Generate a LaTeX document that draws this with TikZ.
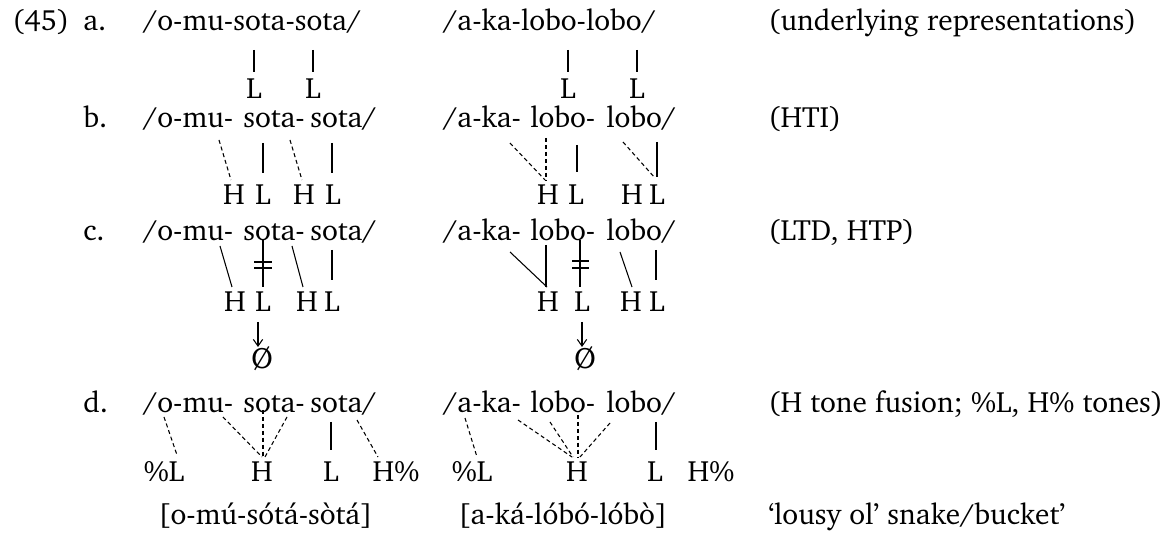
\documentclass[tikz,border=0pt]{standalone}
\usepackage[T1]{fontenc}
\usepackage{charter}
\usetikzlibrary{arrows.meta}
\begin{document}
\begin{tikzpicture}[x=0.75pt,y=-0.75pt,
  every node/.style={font=\fontsize{22}{26}\selectfont},
  tx/.style={inner sep=0pt, anchor=base west},
  tone/.style={inner sep=0pt, anchor=base},
  assoc/.style={line width=0.8pt},
  dassoc/.style={line width=0.8pt, dash pattern=on 3pt off 2.2pt},
  rulearrow/.style={line width=0.8pt, -{Straight Barb[length=5pt,width=7pt]}}]
\useasboundingbox (0,0) rectangle (1164,534);

% ---------- row a ----------
\node[tx] (n45) at (12,31) {(45)};
\node[tx] (la) at (83,31) {a.};
\node[tx] (wa1) at (143,31) {/o-mu-sota-sota/};
\node[tx] (wa2) at (443,31) {/a-ka-lobo-lobo/};
\node[tx] (ra) at (768,31) {(underlying representations)};
\node[tone] (La1) at (254,99) {L};
\node[tone] (La2) at (313,99) {L};
\node[tone] (La3) at (568,99) {L};
\node[tone] (La4) at (637,99) {L};
\coordinate (a1t) at (254,50); \coordinate (a1b) at (254,72);
\coordinate (a2t) at (313,50); \coordinate (a2b) at (313,72);
\coordinate (a3t) at (568,50); \coordinate (a3b) at (568,72);
\coordinate (a4t) at (637,50); \coordinate (a4b) at (637,72);
\draw[assoc] (a1t) -- (a1b);
\draw[assoc] (a2t) -- (a2b);
\draw[assoc] (a3t) -- (a3b);
\draw[assoc] (a4t) -- (a4b);

% ---------- row b ----------
\node[tx] (lb) at (83,128) {b.};
\node[tx] (wb1a) at (143,128) {/o-mu-};
\node[tx] (wb1b) at (243,128) {sota-};
\node[tx] (wb1c) at (310,128) {sota/};
\node[tx] (wb2a) at (443,128) {/a-ka-};
\node[tx] (wb2b) at (530,128) {lobo-};
\node[tx] (wb2c) at (606,128) {lobo/};
\node[tx] (rb) at (768,128) {(HTI)};
\node[tone] (Hb1) at (234,205) {H};
\node[tone] (Lb1) at (263,205) {L};
\node[tone] (Hb2) at (304,205) {H};
\node[tone] (Lb2) at (333,205) {L};
\node[tone] (Hb3) at (548,205) {H};
\node[tone] (Lb3) at (576,205) {L};
\node[tone] (Hb4) at (632,205) {H};
\node[tone] (Lb4) at (657,205) {L};
\coordinate (b1t) at (219,140); \coordinate (b1b) at (231,180);
\coordinate (b2t) at (263,143); \coordinate (b2b) at (263,173);
\coordinate (b3t) at (290,140); \coordinate (b3b) at (302,180);
\coordinate (b4t) at (332,143); \coordinate (b4b) at (332,173);
\coordinate (b5t) at (510,143); \coordinate (b5b) at (545,180);
\coordinate (b6t) at (546,138); \coordinate (b6b) at (546,180);
\coordinate (b7t) at (577,145); \coordinate (b7b) at (577,172);
\coordinate (b8t) at (623,142); \coordinate (b8b) at (655,178);
\coordinate (b9t) at (657,142); \coordinate (b9b) at (657,177);
\draw[dassoc] (b1t) -- (b1b);
\draw[assoc]  (b2t) -- (b2b);
\draw[dassoc] (b3t) -- (b3b);
\draw[assoc]  (b4t) -- (b4b);
\draw[dassoc] (b5t) -- (b5b);
\draw[dassoc] (b6t) -- (b6b);
\draw[assoc]  (b7t) -- (b7b);
\draw[dassoc] (b8t) -- (b8b);
\draw[assoc]  (b9t) -- (b9b);

% ---------- row c ----------
\node[tx] (lc) at (83,241) {c.};
\node[tx] (wc1a) at (143,241) {/o-mu-};
\node[tx] (wc1b) at (243,241) {sota-};
\node[tx] (wc1c) at (310,241) {sota/};
\node[tx] (wc2a) at (443,241) {/a-ka-};
\node[tx] (wc2b) at (530,241) {lobo-};
\node[tx] (wc2c) at (606,241) {lobo/};
\node[tx] (rc) at (768,241) {(LTD, HTP)};
\node[tone] (Hc1) at (235,312) {H};
\node[tone] (Lc1) at (263,312) {L};
\node[tone] (Hc2) at (307,312) {H};
\node[tone] (Lc2) at (332,312) {L};
\node[tone] (Hc3) at (548,312) {H};
\node[tone] (Lc3) at (582,312) {L};
\node[tone] (Hc4) at (631,312) {H};
\node[tone] (Lc4) at (657,312) {L};
\node[tone] (Z1) at (262,369) {\O};
\node[tone] (Z2) at (585,369) {\O};
\coordinate (c1t) at (220,246); \coordinate (c1b) at (232,287);
\coordinate (c2t) at (263,240); \coordinate (c2b) at (263,287);
\coordinate (c3t) at (292,246); \coordinate (c3b) at (303,287);
\coordinate (c4t) at (332,250); \coordinate (c4b) at (332,280);
\coordinate (c5t) at (510,252); \coordinate (c5b) at (547,287);
\coordinate (c6t) at (546,245); \coordinate (c6b) at (546,287);
\coordinate (c7t) at (580,240); \coordinate (c7b) at (580,287);
\coordinate (c8t) at (620,252); \coordinate (c8b) at (632,287);
\coordinate (c9t) at (656,250); \coordinate (c9b) at (656,280);
\draw[assoc] (c1t) -- (c1b);
\draw[assoc] (c2t) -- (c2b);
\draw[assoc] (c3t) -- (c3b);
\draw[assoc] (c4t) -- (c4b);
\draw[assoc] (c5t) -- (c5b);
\draw[assoc] (c6t) -- (c6b);
\draw[assoc] (c7t) -- (c7b);
\draw[assoc] (c8t) -- (c8b);
\draw[assoc] (c9t) -- (c9b);
% delinking marks
\coordinate (x1a) at (254,262); \coordinate (x1b) at (272,262);
\coordinate (x1c) at (254,268); \coordinate (x1d) at (272,268);
\coordinate (x2a) at (572,261); \coordinate (x2b) at (589,261);
\coordinate (x2c) at (572,268); \coordinate (x2d) at (589,268);
\draw[assoc] (x1a) -- (x1b);
\draw[assoc] (x1c) -- (x1d);
\draw[assoc] (x2a) -- (x2b);
\draw[assoc] (x2c) -- (x2d);
% deletion arrows
\coordinate (r1t) at (258,322); \coordinate (r1b) at (258,347);
\coordinate (r2t) at (582,322); \coordinate (r2b) at (582,347);
\draw[rulearrow] (r1t) -- (r1b);
\draw[rulearrow] (r2t) -- (r2b);

% ---------- row d ----------
\node[tx] (ld) at (83,413) {d.};
\node[tx] (wd1a) at (143,413) {/o-mu-};
\node[tx] (wd1b) at (243,413) {sota-};
\node[tx] (wd1c) at (310,413) {sota/};
\node[tx] (wd2a) at (443,413) {/a-ka-};
\node[tx] (wd2b) at (530,413) {lobo-};
\node[tx] (wd2c) at (606,413) {lobo/};
\node[tx] (rd) at (768,413) {(H tone fusion; \%L, H\% tones)};
\node[tone] (pL1) at (164,482) {\%L};
\node[tone] (Hd1) at (262,482) {H};
\node[tone] (Ld1) at (331,482) {L};
\node[tone] (Hp1) at (396,482) {H\%};
\node[tone] (pL2) at (472,482) {\%L};
\node[tone] (Hd2) at (577,482) {H};
\node[tone] (Ld2) at (655,482) {L};
\node[tone] (Hp2) at (711,482) {H\%};
\coordinate (d1t) at (164,417); \coordinate (d1b) at (177,455);
\coordinate (d2t) at (223,417); \coordinate (d2b) at (262,457);
\coordinate (d3t) at (263,410); \coordinate (d3b) at (263,457);
\coordinate (d4t) at (287,417); \coordinate (d4b) at (265,457);
\coordinate (d5t) at (331,422); \coordinate (d5b) at (331,450);
\coordinate (d6t) at (357,420); \coordinate (d6b) at (378,457);
\coordinate (d7t) at (465,418); \coordinate (d7b) at (477,457);
\coordinate (d8t) at (518,420); \coordinate (d8b) at (572,457);
\coordinate (d9t) at (550,422); \coordinate (d9b) at (573,457);
\coordinate (d10t) at (578,415); \coordinate (d10b) at (578,457);
\coordinate (d11t) at (610,423); \coordinate (d11b) at (580,457);
\coordinate (d12t) at (656,422); \coordinate (d12b) at (656,450);
\draw[dassoc] (d1t) -- (d1b);
\draw[dassoc] (d2t) -- (d2b);
\draw[dassoc] (d3t) -- (d3b);
\draw[dassoc] (d4t) -- (d4b);
\draw[assoc]  (d5t) -- (d5b);
\draw[dassoc] (d6t) -- (d6b);
\draw[dassoc] (d7t) -- (d7b);
\draw[dassoc] (d8t) -- (d8b);
\draw[dassoc] (d9t) -- (d9b);
\draw[dassoc] (d10t) -- (d10b);
\draw[dassoc] (d11t) -- (d11b);
\draw[assoc]  (d12t) -- (d12b);

% ---------- surface forms ----------
\node[tx] (g1) at (158,524) {[o-m\'u-s\'ot\'a-s\`ot\'a]};
\node[tx] (g2) at (458,524) {[a-k\'a-l\'ob\'o-l\'ob\`o]};
\node[tx] (gl) at (768,524) {`lousy ol' snake/bucket'};
\end{tikzpicture}
\end{document}
